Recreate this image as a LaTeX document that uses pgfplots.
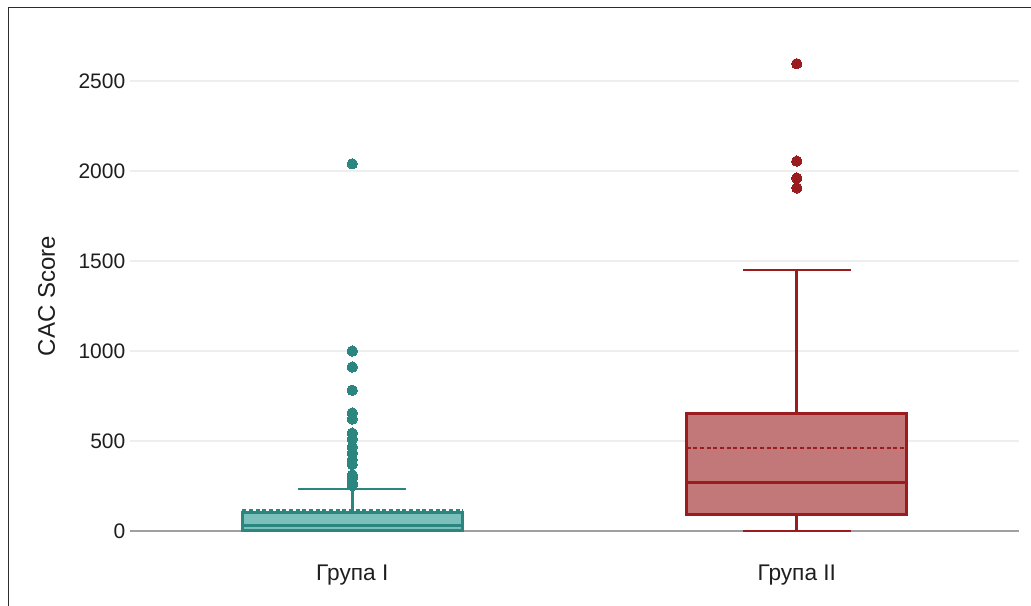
\documentclass[border=0pt]{standalone}
\usepackage{fontspec}
\setmainfont{Liberation Sans}
\usepackage{pgfplots}
\pgfplotsset{compat=1.18}
\definecolor{tealD}{RGB}{44,134,128}
\definecolor{tealL}{RGB}{124,192,187}
\definecolor{redD}{RGB}{154,28,30}
\definecolor{redL}{RGB}{194,120,120}
\definecolor{gridc}{RGB}{238,238,238}
\definecolor{zeroc}{RGB}{160,160,160}
\definecolor{framec}{RGB}{45,45,45}
\definecolor{textc}{RGB}{30,30,30}
\begin{document}
\begin{tikzpicture}
\useasboundingbox (0,0) rectangle (773.25pt,454.5pt);
\draw[line width=1.4pt, framec] (6.4pt,0) -- (6.4pt,448.9pt) -- (773.25pt,448.9pt);
\begin{axis}[
  at={(97.5pt,38.7pt)}, anchor=south west,
  scale only axis, width=666.75pt, height=388.8pt,
  xmin=-0.5, xmax=1.5, ymin=-130, ymax=2750,
  axis line style={draw=none},
  major tick length=0pt,
  xtick={0,1}, xticklabels={Група I, Група II},
  ytick={0,500,1000,1500,2000,2500},
  ymajorgrids, grid style={line width=1.1pt, gridc},
  /pgf/number format/assume math mode=true,
  /pgf/number format/1000 sep={},
  yticklabel style={font=\fontsize{15.75}{18}\selectfont, text=textc},
  xticklabel style={font=\fontsize{17}{20}\selectfont, text=textc, yshift=-4pt},
  ylabel={CAC Score},
  ylabel style={at={(axis description cs:-0.0937,0.498)}, anchor=center, font=\fontsize{18}{21}\selectfont, text=textc},
  clip=false,
]
\addplot[line width=2.2pt, zeroc] coordinates {(-0.5,0) (1.5,0)};

% ---- Group I: min 0, Q1 3, median 33, Q3 105, upper whisker 233, mean 112
\addplot[line width=2.1pt, tealD] coordinates {(0,105) (0,233)};
\addplot[line width=2.1pt, tealD] coordinates {(-0.122,233) (0.122,233)};
\addplot[line width=2.2pt, tealD, fill=tealL] coordinates {(-0.2475,3) (0.2475,3) (0.2475,105) (-0.2475,105)} -- cycle;
\addplot[line width=2.2pt, tealD] coordinates {(-0.2475,33) (0.2475,33)};
\addplot[line width=2.2pt, tealD, dash pattern=on 3pt off 2pt] coordinates {(-0.2475,112) (0.2475,112)};
\addplot[only marks, tealD, mark=*, mark size=3.9pt, mark options={draw=tealD, fill=tealD, line width=0pt}] coordinates {
(0,2040) (0,1000) (0,911) (0,782) (0,656) (0,622) (0,544) (0,511) (0,467) (0,433) (0,395) (0,370) (0,311) (0,294) (0,267) (0,252)};

% ---- Group II: min 0, Q1 94, median 272, Q3 655, upper whisker 1450, mean 461
\addplot[line width=2.1pt, redD] coordinates {(1,0) (1,94)};
\addplot[line width=2.1pt, redD] coordinates {(0.878,0) (1.122,0)};
\addplot[line width=2.1pt, redD] coordinates {(1,655) (1,1450)};
\addplot[line width=2.1pt, redD] coordinates {(0.878,1450) (1.122,1450)};
\addplot[line width=2.2pt, redD, fill=redL] coordinates {(0.7525,94) (1.2475,94) (1.2475,655) (0.7525,655)} -- cycle;
\addplot[line width=2.2pt, redD] coordinates {(0.7525,272) (1.2475,272)};
\addplot[line width=2.2pt, redD, dash pattern=on 3pt off 2pt] coordinates {(0.7525,461) (1.2475,461)};
\addplot[only marks, redD, mark=*, mark size=3.9pt, mark options={draw=redD, fill=redD, line width=0pt}] coordinates {
(1,2596) (1,2055) (1,1961) (1,1906)};
\end{axis}
\end{tikzpicture}
\end{document}
